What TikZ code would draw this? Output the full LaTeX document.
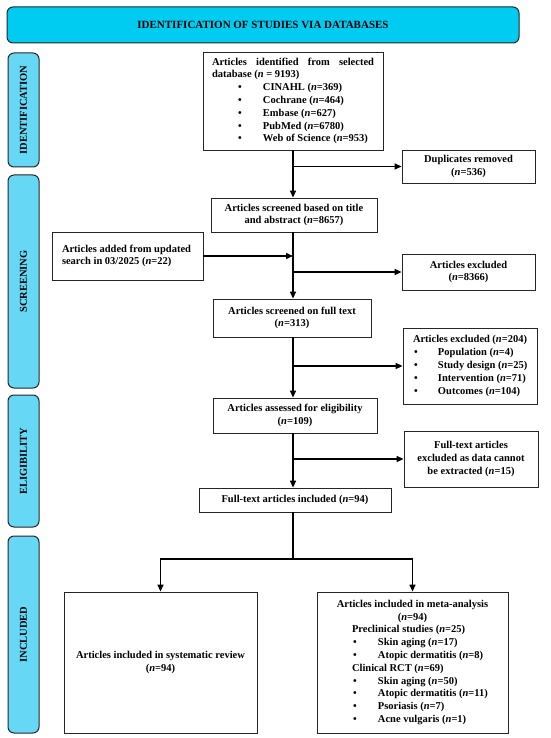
\documentclass[tikz,border=0pt]{standalone}
\usepackage{fontspec}
\setmainfont{Liberation Serif}
\usetikzlibrary{arrows.meta}
\definecolor{banner}{RGB}{0,204,242}
\definecolor{sidebar}{RGB}{102,216,246}
\newcommand\bitem[2][25pt]{\mbox{\makebox[#1][l]{\textbullet}#2}}
\newcommand\nn{\textit{n}}
\begin{document}
\begin{tikzpicture}[x=1pt,y=-1pt,
  every node/.style={font=\fontsize{10.5}{12.8}\selectfont\bfseries, inner sep=0pt},
  box/.style={draw=black!85, line width=0.8pt, fill=white, align=center},
  bar/.style={draw=black!85, line width=1pt, fill=sidebar, rounded corners=6pt, rotate=90, minimum height=31pt},
  arr/.style={line width=1.3pt, -{Triangle[length=7pt,width=6pt]}},
  ln/.style={line width=1.3pt}]
\useasboundingbox (0,0) rectangle (550,738);
% banner
\node[draw=black!85, line width=1pt, fill=banner, rounded corners=6pt, minimum width=512pt, minimum height=36pt, font=\fontsize{11}{13}\selectfont\bfseries] (ban) at (263,25) {IDENTIFICATION OF STUDIES VIA DATABASES};
% side bars
\node[bar, minimum width=114pt] (b1) at (23.5,110) {IDENTIFICATION};
\node[bar, minimum width=213pt] (b2) at (23.5,281.5) {SCREENING};
\node[bar, minimum width=132pt] (b3) at (23.5,461) {ELIGIBILITY};
\node[bar, minimum width=197pt] (b4) at (23.5,634.5) {INCLUDED};
% boxes
\node[box, minimum width=180pt, minimum height=98pt] (ident) at (293,101)
 {\parbox{162pt}{\hyphenpenalty=10000 Articles identified from selected database (\nn{} = 9193)\\
 \hspace*{26pt}\bitem{CINAHL (\nn=369)}\\
 \hspace*{26pt}\bitem{Cochrane (\nn=464)}\\
 \hspace*{26pt}\bitem{Embase (\nn=627)}\\
 \hspace*{26pt}\bitem{PubMed (\nn=6780)}\\
 \hspace*{26pt}\bitem{Web of Science (\nn=953)}}};
\node[box, minimum width=133pt, minimum height=33pt] (dup) at (468.5,166.5) {Duplicates removed\\(\nn=536)};
\node[box, minimum width=166pt, minimum height=34pt] (scr1) at (294,215) {Articles screened based on title\\and abstract (\nn=8657)};
\node[box, minimum width=151pt, minimum height=48pt] (added) at (127.5,256)
 {\parbox{131pt}{\raggedright Articles added from updated\\search in 03/2025 (\nn=22)}};
\node[box, minimum width=133pt, minimum height=36pt] (exc1) at (468.5,272) {Articles excluded\\(\nn=8366)};
\node[box, minimum width=158pt, minimum height=38pt] (scr2) at (292,318) {Articles screened on full text\\(\nn=313)};
\node[box, minimum width=134pt, minimum height=76pt] (exc2) at (470,366)
 {\parbox{114pt}{\raggedright Articles excluded (\nn=204)\\
 \hspace*{1pt}\bitem[24pt]{Population (\nn=4)}\\
 \hspace*{1pt}\bitem[24pt]{Study design (\nn=25)}\\
 \hspace*{1pt}\bitem[24pt]{Intervention (\nn=71)}\\
 \hspace*{1pt}\bitem[24pt]{Outcomes (\nn=104)}}};
\node[box, minimum width=164pt, minimum height=35pt] (elig) at (295,415.5) {Articles assessed for eligibility\\(\nn=109)};
\node[box, minimum width=134pt, minimum height=56pt] (exc3) at (471,459) {Full-text articles\\excluded as data cannot\\be extracted (\nn=15)};
\node[box, minimum width=192pt, minimum height=24pt] (incl) at (295,500) {Full-text articles included (\nn=94)};
\node[box, minimum width=193pt, minimum height=141pt] (sys) at (160.5,662.5) {Articles included in systematic review\\(\nn=94)};
\node[box, minimum width=191pt, minimum height=141pt] (meta) at (412.5,662.5)
 {\parbox{121pt}{\raggedright
 \makebox[121pt][c]{Articles included in meta-analysis}\\
 \makebox[121pt][c]{(\nn=94)}\\
 \mbox{Preclinical studies (\nn=25)}\\
 \hspace*{1pt}\bitem{Skin aging (\nn=17)}\\
 \hspace*{1pt}\bitem{Atopic dermatitis (\nn=8)}\\
 \mbox{Clinical RCT (\nn=69)}\\
 \hspace*{1pt}\bitem{Skin aging (\nn=50)}\\
 \hspace*{1pt}\bitem{Atopic dermatitis (\nn=11)}\\
 \hspace*{1pt}\bitem{Psoriasis (\nn=7)}\\
 \hspace*{1pt}\bitem{Acne vulgaris (\nn=1)}}};
% connectors
\coordinate (sp) at (293,0);
\coordinate (j) at (293,559);
\draw[arr] (sp |- ident.south) -- (sp |- scr1.north);
\draw[arr] (sp |- dup.west) -- (dup.west);
\draw[arr] (sp |- scr1.south) -- (sp |- scr2.north);
\draw[arr] (added.east) -- (sp |- added.east);
\draw[arr] (sp |- exc1.west) -- (exc1.west);
\draw[arr] (sp |- scr2.south) -- (sp |- elig.north);
\draw[arr] (sp |- exc2.west) -- (exc2.west);
\draw[arr] (sp |- elig.south) -- (sp |- incl.north);
\draw[arr] (sp |- exc3.west) -- (exc3.west);
\draw[ln] (sp |- incl.south) -- (j);
\draw[arr] (j) -| (sys.north);
\draw[arr] (j) -| (meta.north);
\end{tikzpicture}
\end{document}
